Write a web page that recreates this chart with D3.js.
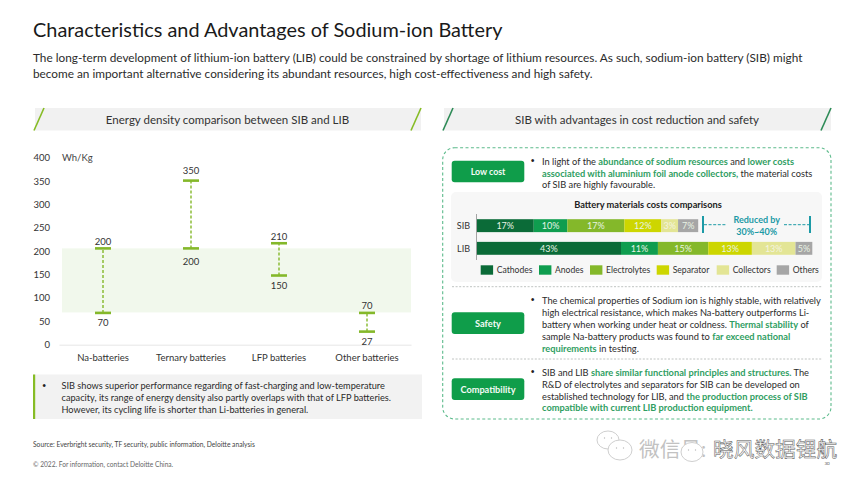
<!DOCTYPE html>
<html>
<head>
<meta charset="utf-8">
<script src="https://cdn.jsdelivr.net/npm/d3@7"></script>
<style>
html, body { margin: 0; padding: 0; background: #fff; }
svg { display: block; }
text { font-family: Lato, "Noto Sans CJK SC", sans-serif; }
</style>
</head>
<body>
<div id="chart"></div>
<script>
// left chart: energy density ranges, Wh/Kg
const batteryTypes = ["Na-batteries", "Ternary batteries", "LFP batteries", "Other batteries"];
const lowLabels = [70, 200, 150, 27];
const highLabels = [200, 350, 210, 70];
// the caps are not quite where the labels say, these are read off the picture
const lowDrawn = [68, 206, 148, 28];
const highDrawn = [206, 351, 217, 68];
const bandRange = [69, 206];
const densityTicks = [0, 50, 100, 150, 200, 250, 300, 350, 400];

// right chart: battery materials costs, percent of LIB total
const costRows = ["SIB", "LIB"];
const materials = ["Cathodes", "Anodes", "Electrolytes", "Separator", "Collectors", "Others"];
const materialColors = ["#0b6b38", "#0f9d4f", "#84b82a", "#cdd600", "#e3e595", "#a6a6a6"];
const sibCosts = [17, 10, 17, 11, 5, 6];
const sibLabels = ["17%", "10%", "17%", "12%", "3%", "7%"];
const libCosts = [43, 11, 15, 13, 13, 5];
const libLabels = ["43%", "11%", "15%", "13%", "13%", "5%"];

const titleText = "Characteristics and Advantages of Sodium-ion Battery";
const introLines = [
    "The long-term development of lithium-ion battery (LIB) could be constrained by shortage of lithium resources. As such, sodium-ion battery (SIB) might",
    "become an important alternative considering its abundant resources, high cost-effectiveness and high safety."
];
const noteLines = [
    "SIB shows superior performance regarding of fast-charging and low-temperature",
    "capacity, its range of energy density also partly overlaps with that of LFP batteries.",
    "However, its cycling life is shorter than Li-batteries in general."
];
// [text, highlighted]
const lowCostLines = [
    [["In light of the ", 0], ["abundance of sodium resources", 1], [" and ", 0], ["lower costs", 1]],
    [["associated with aluminium foil anode collectors,", 1], [" the material costs", 0]],
    [["of SIB are highly favourable.", 0]]
];
const safetyLines = [
    [["The chemical properties of Sodium ion is highly stable, with relatively", 0]],
    [["high electrical resistance, which makes Na-battery outperforms Li-", 0]],
    [["battery when working under heat or coldness. ", 0], ["Thermal stability", 1], [" of", 0]],
    [["sample Na-battery products was found to ", 0], ["far exceed national", 1]],
    [["requirements", 1], [" in testing.", 0]]
];
const compatLines = [
    [["SIB and LIB ", 0], ["share similar functional principles and structures.", 1], [" The", 0]],
    [["R&D of electrolytes and separators for SIB can be developed on", 0]],
    [["established technology for LIB, and ", 0], ["the production process of SIB", 1]],
    [["compatible with current LIB production equipment.", 1]]
];

function init() {
    const w = 864;
    const h = 486;

    const svg = d3.select("#chart")
        .append("svg")
        .attr("width", w)
        .attr("height", h);

    function label(x, y, txt, size, color, anchor, weight) {
        return svg.append("text")
            .attr("x", x)
            .attr("y", y)
            .attr("dominant-baseline", "central")
            .attr("text-anchor", anchor || "start")
            .attr("font-size", size)
            .attr("font-weight", weight || 400)
            .attr("fill", color)
            .text(txt);
    }

    function richLines(x, ys, lines, size) {
        lines.forEach(function (parts, i) {
            const t = svg.append("text")
                .attr("x", x)
                .attr("y", ys[i])
                .attr("dominant-baseline", "central")
                .attr("font-size", size)
                .attr("xml:space", "preserve");
            parts.forEach(function (p) {
                t.append("tspan")
                    .attr("fill", p[1] ? "#2f9e62" : "#2b2b2b")
                    .attr("font-weight", p[1] ? 700 : 400)
                    .text(p[0]);
            });
        });
    }

    function header(x0, x1, txt, slash) {
        svg.append("rect")
            .attr("x", x0 + 1)
            .attr("y", 108)
            .attr("width", x1 - x0 - 1)
            .attr("height", 22.5)
            .attr("fill", "#f1f1f1");
        [x0, x1 - 10].forEach(function (x) {
            svg.append("line")
                .attr("x1", x)
                .attr("y1", 130.5)
                .attr("x2", x + 10)
                .attr("y2", 108)
                .attr("stroke", slash)
                .attr("stroke-width", 1.6);
        });
        label((x0 + x1) / 2, 119.5, txt, 11.5, "#333", "middle");
    }

    // title block
    label(33, 29, titleText, 19.9, "#1a1a1a");
    introLines.forEach(function (l, i) {
        label(33, 57.5 + i * 15.5, l, 11.8, "#2b2b2b");
    });

    header(34, 421, "Energy density comparison between SIB and LIB", "#86bc25");
    header(443, 831, "SIB with advantages in cost reduction and safety", "#2e8b57");

    // left chart
    const x = d3.scaleBand().domain(batteryTypes).range([59, 411]);
    const y = d3.scaleLinear().domain([0, 400]).range([344.7, 157.7]);

    svg.append("rect")
        .attr("x", 62)
        .attr("width", 349)
        .attr("y", y(bandRange[1]))
        .attr("height", y(bandRange[0]) - y(bandRange[1]))
        .attr("fill", "#f1f8ec");

    const yAxis = svg.append("g")
        .attr("transform", "translate(52,0)")
        .call(d3.axisLeft(y).tickValues(densityTicks).tickSize(0).tickPadding(2));
    yAxis.select(".domain").remove();
    yAxis.selectAll("text")
        .attr("font-size", 9.5)
        .attr("fill", "#333");

    const xAxis = svg.append("g")
        .attr("transform", "translate(0,344.7)")
        .call(d3.axisBottom(x).tickSize(0).tickPadding(10));
    xAxis.select(".domain").attr("stroke", "#e6e6e6");
    xAxis.selectAll("text")
        .attr("font-size", 9.5)
        .attr("fill", "#333");

    label(62, 157.7, "Wh/Kg", 9.5, "#444");

    const capHalf = 8;
    batteryTypes.forEach(function (b, i) {
        const cx = x(b) + x.bandwidth() / 2;
        svg.append("line")
            .attr("x1", cx)
            .attr("x2", cx)
            .attr("y1", y(lowDrawn[i]))
            .attr("y2", y(highDrawn[i]))
            .attr("stroke", "#84b82a")
            .attr("stroke-width", 1.4)
            .attr("stroke-dasharray", "3,2");
        [lowDrawn[i], highDrawn[i]].forEach(function (v) {
            svg.append("line")
                .attr("x1", cx - capHalf)
                .attr("x2", cx + capHalf)
                .attr("y1", y(v))
                .attr("y2", y(v))
                .attr("stroke", "#84b82a")
                .attr("stroke-width", 2.6);
        });
        label(cx, y(highDrawn[i]) - (i === 1 ? 10 : 7), highLabels[i], 9.5, "#333", "middle");
        label(cx, y(lowDrawn[i]) + (i === 1 ? 13.5 : 9.5), lowLabels[i], 9.5, "#333", "middle");
    });

    // note under the left chart
    svg.append("rect")
        .attr("x", 34)
        .attr("y", 374.5)
        .attr("width", 388)
        .attr("height", 44.5)
        .attr("fill", "#f2f2f2");
    svg.append("rect")
        .attr("x", 33)
        .attr("y", 374.5)
        .attr("width", 2.2)
        .attr("height", 44.5)
        .attr("fill", "#86bc25");
    label(42, 385.5, "\u2022", 7.5, "#222");
    noteLines.forEach(function (l, i) {
        label(61.5, 385.7 + i * 11.8, l, 9.2, "#2b2b2b");
    });

    label(33, 444, "Source: Everbright security, TF security, public information, Deloitte analysis", 6.7, "#444");
    label(33, 464, "\u00a9 2022. For information, contact Deloitte China.", 6.6, "#666");
    label(827, 463.5, "30", 4.5, "#555", "middle");

    // dashed frame on the right
    svg.append("rect")
        .attr("x", 442.7)
        .attr("y", 147.7)
        .attr("width", 388.3)
        .attr("height", 271.3)
        .attr("rx", 12)
        .attr("fill", "none")
        .attr("stroke", "#5dbb8c")
        .attr("stroke-width", 1.1)
        .attr("stroke-dasharray", "3,2.4");
    [286.7, 359].forEach(function (yy) {
        svg.append("line")
            .attr("x1", 452)
            .attr("x2", 822)
            .attr("y1", yy)
            .attr("y2", yy)
            .attr("stroke", "#b9bdbb")
            .attr("stroke-width", 0.9)
            .attr("stroke-dasharray", "2,1.6");
    });

    // green buttons and their text
    [["Low cost", 160.7, 8.8], ["Safety", 312.3, 9.2], ["Compatibility", 378.3, 9.2]].forEach(function (b) {
        svg.append("rect")
            .attr("x", 451.7)
            .attr("y", b[1])
            .attr("width", 72.6)
            .attr("height", 21.6)
            .attr("rx", 3)
            .attr("fill", "#0f9d4a");
        label(488, b[1] + 11, b[0], b[2], "#f4fbf6", "middle", 700);
    });

    [160.3, 299, 371.5].forEach(function (by) {
        label(530.5, by, "\u2022", 7.5, "#222");
    });
    richLines(542, [160.8, 172.8, 184.4], lowCostLines, 9.25);
    richLines(542, [300, 312, 324.2, 336, 347.8], safetyLines, 9.25);
    richLines(542, [372.3, 384.3, 396, 407.4], compatLines, 9.25);

    // stacked bars
    svg.append("rect")
        .attr("x", 451)
        .attr("y", 192)
        .attr("width", 371)
        .attr("height", 90)
        .attr("rx", 5)
        .attr("fill", "#f7f7f7");
    label(648, 204, "Battery materials costs comparisons", 9.25, "#222", "middle", 700);

    const barX = d3.scaleLinear().domain([0, 100]).range([476.7, 812.3]);
    const barY = d3.scaleBand().domain(costRows).range([214, 260]).paddingInner(0.43).paddingOuter(0.23);

    const rows = [[sibCosts, sibLabels], [libCosts, libLabels]];
    costRows.forEach(function (r, ri) {
        const vals = rows[ri][0];
        const stack = d3.cumsum(vals);
        vals.forEach(function (v, i) {
            const x0 = barX(stack[i] - v);
            const x1 = barX(stack[i]);
            svg.append("rect")
                .attr("x", x0)
                .attr("y", barY(r))
                .attr("width", x1 - x0)
                .attr("height", barY.bandwidth())
                .attr("fill", materialColors[i]);
            label((x0 + x1) / 2, barY(r) + barY.bandwidth() / 2, rows[ri][1][i], 9, i === 4 ? "#f4f4e0" : "#e8f3e4", "middle");
        });
        label(470, barY(r) + barY.bandwidth() / 2, r, 9, "#333", "end");
    });
    svg.append("line")
        .attr("x1", 476.5)
        .attr("x2", 476.5)
        .attr("y1", 214)
        .attr("y2", 260)
        .attr("stroke", "#9a9a9a")
        .attr("stroke-width", 0.9);

    // reduced by bracket
    const teal = "#1c9aa6";
    [703, 810].forEach(function (bx) {
        svg.append("line")
            .attr("x1", bx)
            .attr("x2", bx)
            .attr("y1", 216)
            .attr("y2", 233)
            .attr("stroke", teal)
            .attr("stroke-width", 2);
    });
    [[704, 727], [784, 809]].forEach(function (seg) {
        svg.append("line")
            .attr("x1", seg[0])
            .attr("x2", seg[1])
            .attr("y1", 224.7)
            .attr("y2", 224.7)
            .attr("stroke", teal)
            .attr("stroke-width", 1)
            .attr("stroke-dasharray", "3,1.6");
    });
    label(756.7, 219, "Reduced by", 9, teal, "middle", 700);
    label(756.7, 231, "30%~40%", 9, teal, "middle", 700);

    // legend
    const legendX = [480.7, 539, 590, 656.7, 716.7, 776.7];
    materials.forEach(function (m, i) {
        svg.append("rect")
            .attr("x", legendX[i])
            .attr("y", 265.3)
            .attr("width", 12.4)
            .attr("height", 9.4)
            .attr("fill", materialColors[i]);
        label(legendX[i] + 16, 270.3, m, 8.6, "#333");
    });

    // wechat watermark
    label(639, 449, "\u5fae\u4fe1\u53f7:", 20.7, "#c2c2c2");
    [[608, 440, 11, 9], [620, 450, 12, 10], [692, 452, 11, 9.5]].forEach(function (c) {
        svg.append("ellipse")
            .attr("cx", c[0])
            .attr("cy", c[1])
            .attr("rx", c[2])
            .attr("ry", c[3])
            .attr("fill", "#fff")
            .attr("stroke", "#cfcfcf")
            .attr("stroke-width", 1);
        [-3.5, 3.5].forEach(function (dx) {
            svg.append("circle")
                .attr("cx", c[0] + dx)
                .attr("cy", c[1] - 2)
                .attr("r", 0.7)
                .attr("fill", "#bbb");
        });
    });
    label(713, 449, "\u6653\u98ce\u6570\u636e\u9502\u822a", 20.7, "#fff")
        .attr("stroke", "#555")
        .attr("stroke-width", 0.5);
}

window.onload = init;
</script>
</body>
</html>
